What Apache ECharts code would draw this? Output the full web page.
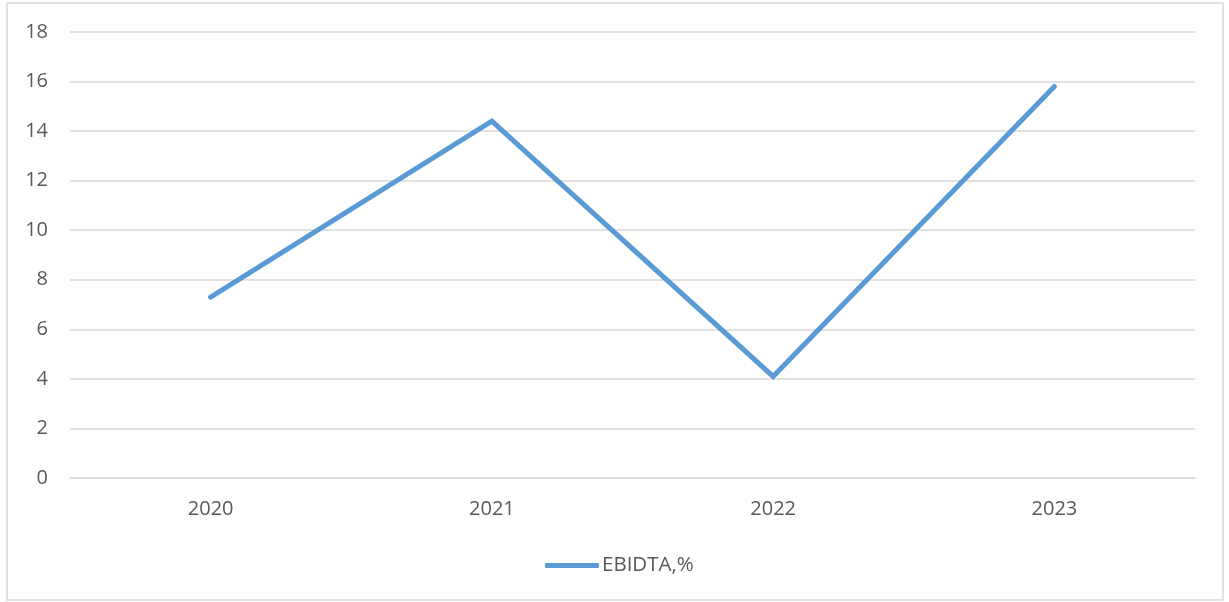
<!DOCTYPE html>
<html>
<head>
<meta charset="utf-8">
<style>
  html, body { margin: 0; padding: 0; background: #ffffff; }
  #chart { width: 1229px; height: 602px; }
</style>
<script src="https://cdn.jsdelivr.net/npm/echarts@6/dist/echarts.min.js"></script>
</head>
<body>
<div id="chart"></div>
<script>
// EBIDTA margin by year
const years = ['2020', '2021', '2022', '2023'];
const ebidta = [7.3, 14.4, 4.1, 15.8];
const seriesName = 'EBIDTA,%';

const font = '"Open Sans", "Liberation Sans", sans-serif';
const textColor = '#595959';
const gridColor = '#d9d9d9';
const lineColor = '#5b9bd5';

const chart = echarts.init(document.getElementById('chart'), null, { renderer: 'canvas' });
chart.setOption({
  animation: false,
  backgroundColor: '#ffffff',
  graphic: [{
    type: 'rect',
    shape: { x: 7, y: 3, width: 1216, height: 597 },
    style: { fill: 'none', stroke: gridColor, lineWidth: 1.5 },
    silent: true
  }],
  grid: { left: 70, right: 34, top: 32, bottom: 124, containLabel: false, outerBoundsMode: 'none' },
  legend: {
    show: true,
    orient: 'horizontal',
    left: 540,
    top: 550,
    icon: 'roundRect',
    itemWidth: 54,
    itemHeight: 5,
    itemGap: 10,
    textStyle: { fontFamily: font, fontSize: 20.5, color: textColor, padding: [0, 0, 0, -2] },
    itemStyle: { color: lineColor, borderWidth: 0 }
  },
  xAxis: {
    type: 'category',
    data: years,
    boundaryGap: true,
    axisLine: { lineStyle: { color: gridColor, width: 1.5 } },
    axisTick: { show: false },
    axisLabel: { fontFamily: font, fontSize: 20, color: textColor, margin: 21 }
  },
  yAxis: {
    type: 'value',
    min: 0,
    max: 18,
    interval: 2,
    axisLine: { show: false },
    axisTick: { show: false },
    splitLine: { lineStyle: { color: gridColor, width: 1.5 } },
    axisLabel: { fontFamily: font, fontSize: 20, color: textColor, margin: 22 }
  },
  series: [{
    name: seriesName,
    type: 'line',
    data: ebidta,
    showSymbol: false,
    symbol: 'none',
    lineStyle: { color: lineColor, width: 5, cap: 'round', join: 'miter' },
    itemStyle: { color: lineColor }
  }]
});
</script>
</body>
</html>
